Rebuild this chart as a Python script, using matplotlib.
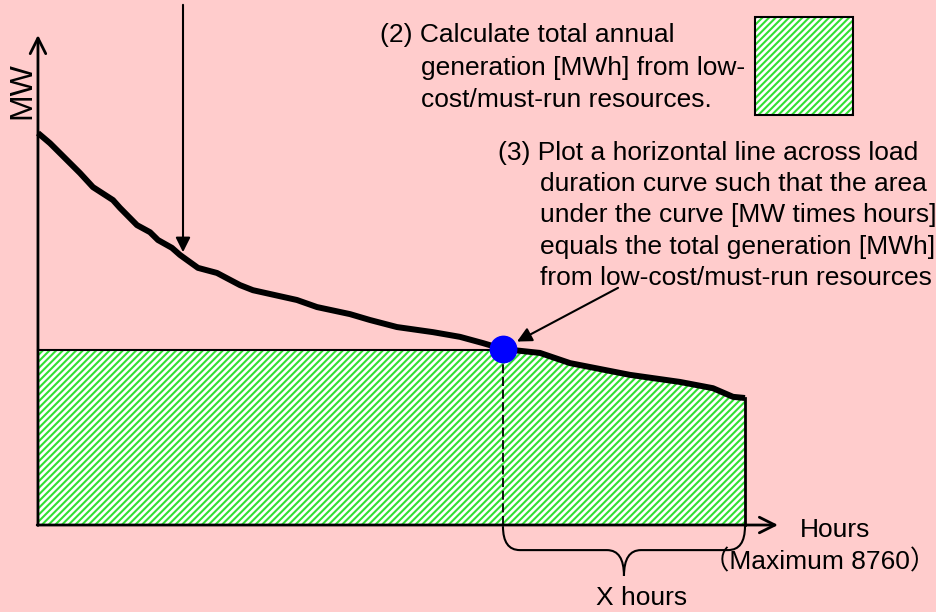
import numpy as np
import matplotlib
matplotlib.use("Agg")
import matplotlib.pyplot as plt
from matplotlib.patches import Rectangle, PathPatch
from matplotlib.path import Path

plt.rcParams['font.family'] = ['Liberation Sans', 'Noto Sans CJK JP']
plt.rcParams['hatch.linewidth'] = 1.5

# load duration curve (hours sorted, MW)
hours = [0, 149, 359, 520, 681, 929, 1016, 1227, 1388, 1487, 1660, 1759, 1982,
         2218, 2503, 2664, 3209, 3457, 3866, 4113, 4448, 4894, 5229, 5514,
         5761, 6220, 6592, 6839, 7335, 7954, 8363, 8611, 8760]
mw = [1000, 974, 931, 898, 862, 829, 809, 765, 747, 727, 707, 689, 656,
      643, 612, 599, 574, 556, 538, 523, 505, 492, 480, 464,
      449, 439, 413, 403, 383, 365, 349, 327, 324]
level = 447          # MW level of horizontal line
x_cross = 5761       # hours where line meets curve
max_hours = 8760

bg = '#ffcccc'
green = '#33e033'
fs = 19

fig = plt.figure(figsize=(9.37, 6.12), dpi=100, facecolor=bg)
ax = fig.add_axes([0, 0, 1, 1])
ax.set_facecolor(bg)
ax.set_xlim(-470.4, 11138.9)
ax.set_ylim(-221.9, 1339.3)
ax.axis('off')

h = np.array(hours, dtype=float)
m = np.array(mw, dtype=float)

# hatched area
ax.fill_between(h, 0, np.minimum(m, level), facecolor='white',
                edgecolor=green, hatch='/////', linewidth=0, zorder=1)
ax.plot([0, x_cross], [level, level], color='black', lw=1.5, zorder=2)
ax.plot([x_cross, x_cross], [0, level], color='black', lw=1.3,
        linestyle=(0, (5, 2)), zorder=2)
ax.plot([max_hours, max_hours], [0, mw[-1]], color='black', lw=2, zorder=2)

# curve
ax.plot(h, m, color='black', lw=4.3, solid_capstyle='butt', zorder=3)
ax.plot([x_cross], [449], 'o', color='blue', ms=19, zorder=4)

# axes arrows
ax.annotate('', xy=(0, 1250), xytext=(0, -1), zorder=3,
            arrowprops=dict(arrowstyle='->', lw=2, color='black',
                            mutation_scale=28, shrinkA=0, shrinkB=0))
ax.annotate('', xy=(9169, 0), xytext=(-10, 0), zorder=3,
            arrowprops=dict(arrowstyle='->', lw=2, color='black',
                            mutation_scale=28, shrinkA=0, shrinkB=0))

# arrow from top
ax.annotate('', xy=(1797, 696), xytext=(1797, 1327),
            arrowprops=dict(arrowstyle='-|>', lw=1.5, color='black',
                            mutation_scale=22, shrinkA=0, shrinkB=0))
# arrow to crossing point
ax.annotate('', xy=(5935, 468), xytext=(7187, 605),
            arrowprops=dict(arrowstyle='-|>', lw=1.5, color='black',
                            mutation_scale=22, shrinkA=0, shrinkB=0))

# brace under x hours
x0, x1 = x_cross, max_hours
xm = (x0 + x1) / 2
dx = 210
yb, yt = -64, -130
verts = [(x0, -3), (x0, yb), (x0 + dx, yb),
         (xm - dx, yb), (xm, yb), (xm, yt),
         (xm, yb), (xm + dx, yb),
         (x1 - dx, yb), (x1, yb), (x1, -3)]
codes = [Path.MOVETO, Path.CURVE3, Path.CURVE3,
         Path.LINETO, Path.CURVE3, Path.CURVE3,
         Path.CURVE3, Path.CURVE3,
         Path.LINETO, Path.CURVE3, Path.CURVE3]
ax.add_patch(PathPatch(Path(verts, codes), facecolor='none',
                       edgecolor='black', lw=1.5))


def fpos(x, y):
    return x / 937, 1 - y / 612


# texts
ax.text(*fpos(22, 91), 'MW', transform=fig.transFigure, rotation=90,
        ha='center', va='center', fontsize=23)
lines2 = [(380, 35, '(2) Calculate total annual'),
          (421, 68, 'generation [MWh] from low-'),
          (421, 100, 'cost/must-run resources.')]
lines3 = [(498, 153, '(3) Plot a horizontal line across load'),
          (540, 184, 'duration curve such that the area'),
          (540, 215, 'under the curve [MW times hours]'),
          (540, 247, 'equals the total generation [MWh]'),
          (540, 278, 'from low-cost/must-run resources')]
for x, y, s in lines2 + lines3:
    ax.text(*fpos(x, y), s, transform=fig.transFigure, ha='left',
            va='center', fontsize=fs)

ax.text(*fpos(835, 530), 'Hours', transform=fig.transFigure,
        ha='center', va='center', fontsize=fs)
ax.text(*fpos(936, 562), '（Maximum 8760）', transform=fig.transFigure,
        ha='right', va='center', fontsize=fs)
ax.text(*fpos(642, 598), 'X hours', transform=fig.transFigure,
        ha='center', va='center', fontsize=fs)

# legend swatch
fig.add_artist(Rectangle(fpos(755, 115), 98 / 937, 98 / 612,
                         transform=fig.transFigure, facecolor='white',
                         edgecolor=green, hatch='/////', lw=0))
fig.add_artist(Rectangle(fpos(755, 115), 98 / 937, 98 / 612,
                         transform=fig.transFigure, facecolor='none',
                         edgecolor='black', lw=1.5))

fig.savefig('out.png', dpi=100, facecolor=bg)
